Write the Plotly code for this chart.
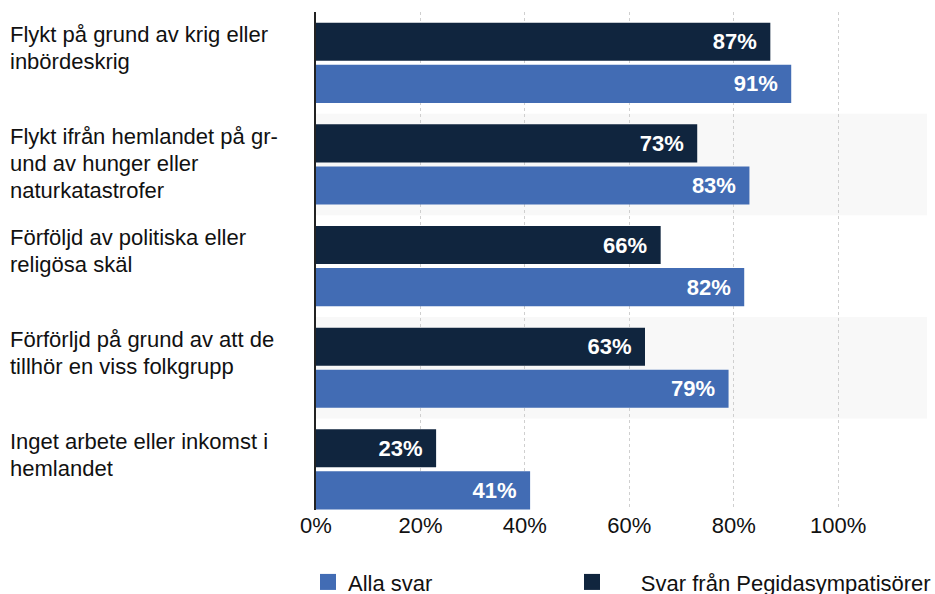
import plotly.graph_objects as go

categories = [
    "Flykt på grund av krig eller<br>inbördeskrig",
    "Flykt ifrån hemlandet på gr-<br>und av hunger eller<br>naturkatastrofer",
    "Förföljd av politiska eller<br>religösa skäl",
    "Förförljd på grund av att de<br>tillhör en viss folkgrupp",
    "Inget arbete eller inkomst i<br>hemlandet",
]
pegida_values = [87, 73, 66, 63, 23]
alla_values = [91, 83, 82, 79, 41]
series_names = ["Alla svar", "Svar från Pegidasympatisörer"]
tick_values = [0, 20, 40, 60, 80, 100]
tick_labels = ["0%", "20%", "40%", "60%", "80%", "100%"]

DARK = "#10253e"
BLUE = "#426cb4"
FONT = "Liberation Sans, Arial, Helvetica, sans-serif"

fig = go.Figure()

fig.add_trace(go.Bar(
    y=categories, x=pegida_values, orientation="h", name=series_names[1],
    marker=dict(color=DARK, line=dict(width=0)),
    texttemplate="%{x}%\u00a0\u2009", textposition="inside", insidetextanchor="end",
    textfont=dict(color="white", size=22, family=FONT, weight="bold"),
    showlegend=False, hoverinfo="x+y",
))
fig.add_trace(go.Bar(
    y=categories, x=alla_values, orientation="h", name=series_names[0],
    marker=dict(color=BLUE, line=dict(width=0)),
    texttemplate="%{x}%\u00a0\u2009", textposition="inside", insidetextanchor="end",
    textfont=dict(color="white", size=22, family=FONT, weight="bold"),
    showlegend=False, hoverinfo="x+y",
))

# legend entries
fig.add_trace(go.Scatter(
    x=[None], y=[None], mode="markers", name=series_names[0],
    marker=dict(symbol="square", size=16, color=BLUE), legend="legend",
))
fig.add_trace(go.Scatter(
    x=[None], y=[None], mode="markers",
    name="\u00a0\u00a0\u00a0\u00a0\u2009" + series_names[1],
    marker=dict(symbol="square", size=16, color=DARK), legend="legend2",
))

shapes = []
for i in range(len(categories)):
    if i % 2 == 1:
        shapes.append(dict(type="rect", xref="paper", yref="y", x0=0, x1=1,
                           y0=i - 0.5, y1=i + 0.5, fillcolor="#f8f8f8",
                           line=dict(width=0), layer="below"))

annotations = []
for i, cat in enumerate(categories):
    for k, line in enumerate(cat.split("<br>")):
        annotations.append(dict(
            text=line, xref="paper", yref="y", x=0, y=i - 0.5,
            xanchor="left", yanchor="top", xshift=-308, yshift=-8 - 27 * k,
            showarrow=False, align="left",
            font=dict(size=22, color="#111111", family=FONT),
        ))

legend_common = dict(orientation="h", xref="container", yref="container",
                     xanchor="left", yanchor="middle", y=0.02,
                     font=dict(size=22, color="#111111", family=FONT),
                     itemsizing="trace", bgcolor="rgba(0,0,0,0)")

fig.update_layout(
    width=935, height=594,
    margin=dict(l=316, r=8, t=12, b=84),
    paper_bgcolor="white", plot_bgcolor="white",
    barmode="group", bargap=0.172, bargroupgap=0.095,
    font=dict(family=FONT, size=22, color="#111111"),
    shapes=shapes, annotations=annotations,
    legend=dict(x=308 / 935, **legend_common),
    legend2=dict(x=572 / 935, **legend_common),
    xaxis=dict(range=[0, 117], tickvals=tick_values, ticktext=tick_labels,
               showgrid=True, gridcolor="#cfcfcf", griddash="dot", gridwidth=1,
               zeroline=False, showline=False, ticks="",
               tickfont=dict(size=22, color="#111111"), fixedrange=True),
    yaxis=dict(range=[4.4, -0.5], showticklabels=False, showgrid=False,
               zeroline=False, showline=True, linecolor="#222222", linewidth=2,
               ticks="", fixedrange=True),
)

fig.write_html(
    "out.html",
    config={"displayModeBar": False},
    post_script="document.body.style.margin='0';document.body.style.overflow='hidden';",
)
